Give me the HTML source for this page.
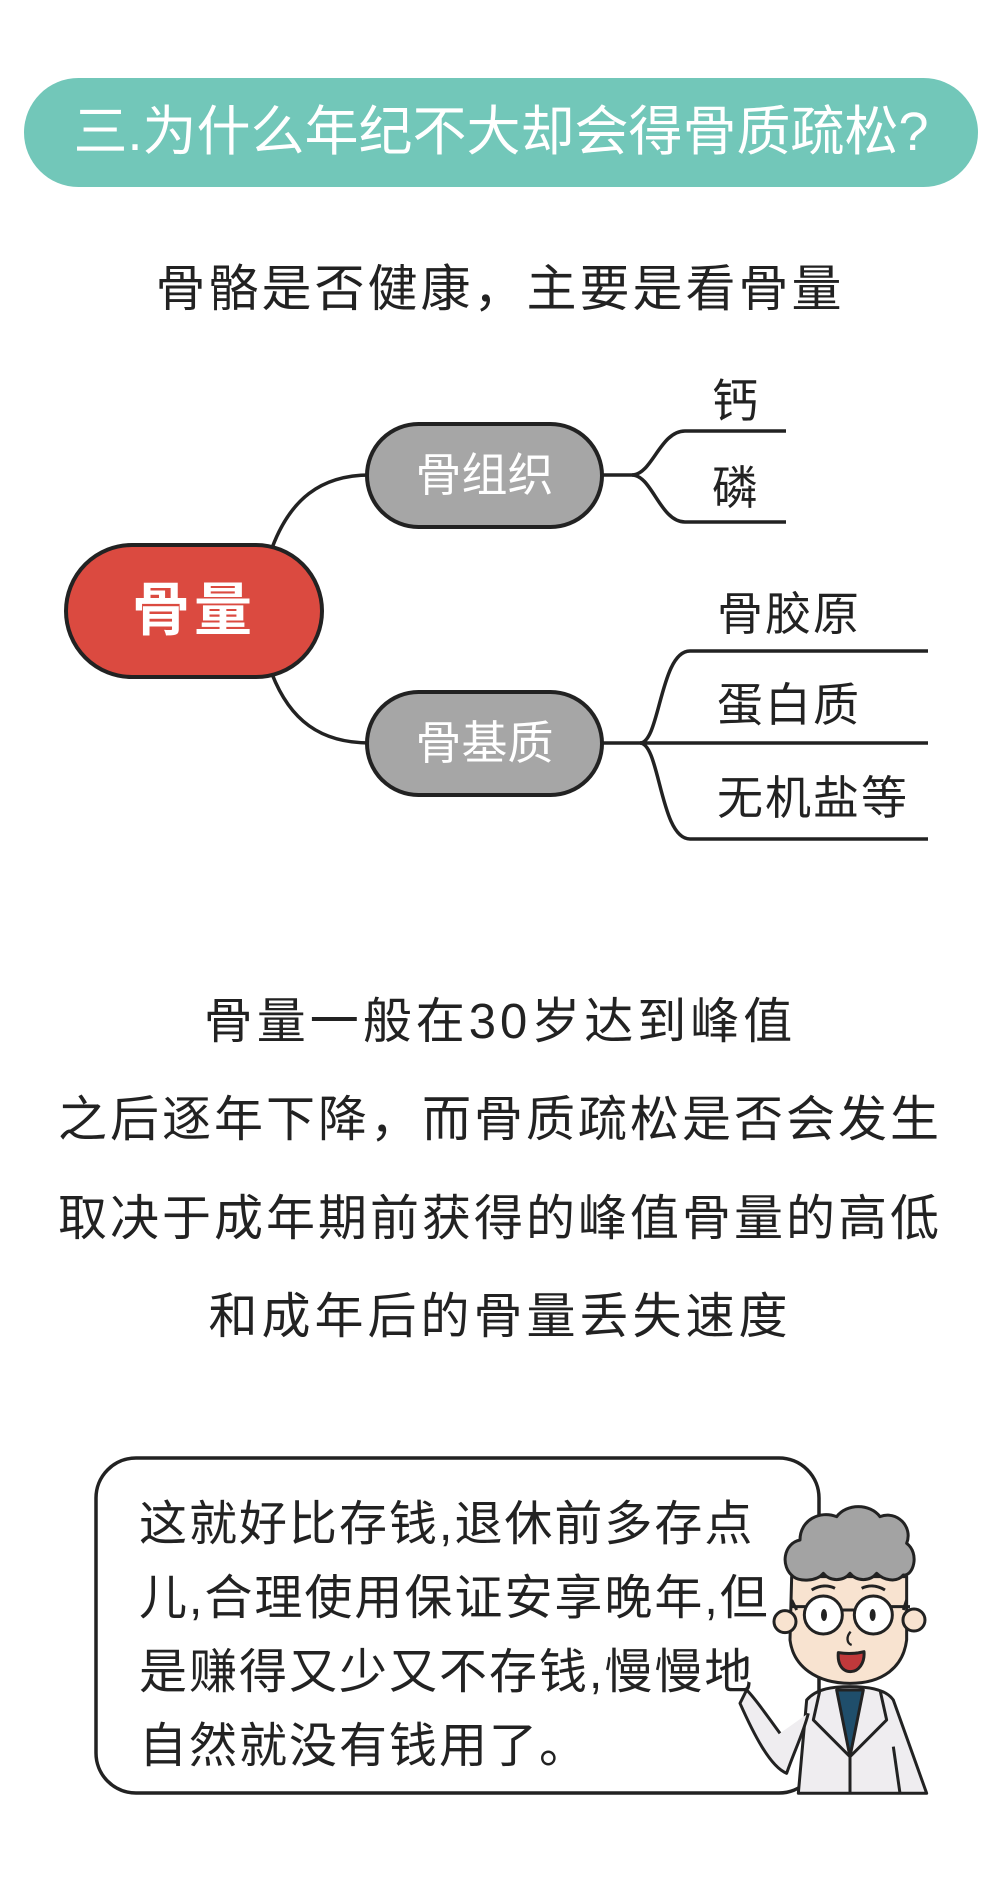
<!DOCTYPE html>
<html><head><meta charset="utf-8">
<style>
html,body{margin:0;padding:0;background:#fff;}
body{width:1000px;height:1879px;position:relative;overflow:hidden;font-family:"Liberation Sans","Noto Sans CJK SC","WenQuanYi Zen Hei",sans-serif;color:#222;}
.t{position:absolute;white-space:nowrap;}
</style></head><body>
<svg width="1000" height="1879" style="position:absolute;left:0;top:0" xmlns="http://www.w3.org/2000/svg">
  <rect x="24" y="78" width="954" height="109" rx="54.5" fill="#72c7b9"/>
  <g fill="none" stroke="#222" stroke-width="3.5">
    <path d="M272 548 C290 500 320 475 370 475"/>
    <path d="M272 674 C290 720 320 743 370 743"/>
    <path d="M600 475 L632 475 C652 475 660 431 685 431 L786 431"/>
    <path d="M632 475 C652 475 660 522 685 522 L786 522"/>
    <path d="M600 743 L640 743 C660 743 660 651 690 651 L928 651"/>
    <path d="M640 743 L928 743"/>
    <path d="M640 743 C660 743 660 839 690 839 L928 839"/>
  </g>
  <rect x="66" y="545" width="256" height="132" rx="66" fill="#db4a40" stroke="#222" stroke-width="4"/>
  <rect x="367" y="424" width="235" height="103" rx="51.5" fill="#a6a6a6" stroke="#222" stroke-width="4"/>
  <rect x="367" y="692" width="235" height="103" rx="51.5" fill="#a6a6a6" stroke="#222" stroke-width="4"/>
  <rect x="96" y="1458" width="723" height="335" rx="40" fill="#fff" stroke="#222" stroke-width="3.5"/>
  <g transform="translate(740,1500) scale(0.3333)" stroke="#222" stroke-width="9" stroke-linejoin="round">
    <path d="M175 880 L200 600 C230 565 280 560 330 560 C390 560 440 570 460 600 L560 880 Z" fill="#efedf0"/>
    <path d="M290 570 L370 570 L330 770 Z" fill="#1f4e6b"/>
    <path d="M240 570 L220 660 L260 700 L330 770" fill="none"/>
    <path d="M420 570 L440 660 L400 700 L330 770" fill="none"/>
    <path d="M330 770 L330 880" fill="none"/>
    <path d="M460 740 L480 880" fill="none"/>
    <path d="M205 640 C190 700 160 760 140 820 C90 800 40 700 0 610 L20 570 C50 600 90 660 120 700" fill="#efedf0"/>
    <path d="M155 230 L150 420 C160 500 230 550 330 550 C430 550 490 500 500 420 L500 230 Z" fill="#f8e3d0"/>
    <circle cx="135" cy="365" r="33" fill="#f8e3d0"/>
    <circle cx="522" cy="360" r="33" fill="#f8e3d0"/>
    <path d="M155 300 L170 330 M500 300 L490 330" fill="none"/>
    <path d="M160 230 C120 200 130 130 180 120 C180 60 240 30 290 50 C320 10 390 10 420 50 C470 30 520 80 500 130 C540 160 520 230 490 225 C470 250 430 240 410 220 C390 245 350 245 330 220 C310 245 270 245 250 220 C230 245 180 245 160 230 Z" fill="#a3a3a3"/>
    <path d="M150 320 L200 320 M300 330 L350 330 M450 320 L510 320" fill="none"/>
    <circle cx="250" cy="345" r="57" fill="#fff"/>
    <circle cx="400" cy="345" r="57" fill="#fff"/>
    <ellipse cx="252" cy="345" rx="9" ry="18" fill="#222" stroke="none"/>
    <ellipse cx="398" cy="345" rx="9" ry="18" fill="#222" stroke="none"/>
    <path d="M215 270 C240 255 265 255 285 265 M365 265 C385 255 410 255 435 270" fill="none"/>
    <path d="M332 395 C318 410 320 430 335 435" fill="none" stroke-width="7"/>
    <path d="M295 458 C320 462 345 462 372 455 C375 490 355 515 332 515 C305 515 292 490 295 458 Z" fill="#c0393b"/>
  </g>
</svg>

<div class="t" style="left:24px;width:954px;top:101px;text-align:center;font-size:54px;line-height:62px;color:#fff;">三.为什么年纪不大却会得骨质疏松?</div>
<div class="t" style="left:0;width:1000px;top:260px;text-align:center;font-size:50px;line-height:58px;letter-spacing:3px;">骨骼是否健康，主要是看骨量</div>

<div class="t" style="left:66px;width:256px;top:578px;text-align:center;font-size:58px;line-height:66px;color:#fff;font-weight:bold;letter-spacing:4px;">骨量</div>
<div class="t" style="left:367px;width:235px;top:448px;text-align:center;font-size:46px;line-height:54px;color:#fff;">骨组织</div>
<div class="t" style="left:367px;width:235px;top:716px;text-align:center;font-size:46px;line-height:54px;color:#fff;">骨基质</div>

<div class="t" style="left:712px;top:375px;font-size:46px;line-height:52px;">钙</div>
<div class="t" style="left:712px;top:462px;font-size:46px;line-height:52px;">磷</div>
<div class="t" style="left:717px;top:588px;font-size:46px;line-height:52px;letter-spacing:2px;">骨胶原</div>
<div class="t" style="left:717px;top:679px;font-size:46px;line-height:52px;letter-spacing:2px;">蛋白质</div>
<div class="t" style="left:717px;top:772px;font-size:46px;line-height:52px;letter-spacing:2px;">无机盐等</div>

<div class="t" style="left:0;width:1000px;top:993px;text-align:center;font-size:49px;line-height:58px;letter-spacing:4px;">骨量一般在30岁达到峰值</div>
<div class="t" style="left:0;width:1000px;top:1091px;text-align:center;font-size:49px;line-height:58px;letter-spacing:3px;">之后逐年下降，而骨质疏松是否会发生</div>
<div class="t" style="left:0;width:1000px;top:1190px;text-align:center;font-size:49px;line-height:58px;letter-spacing:3px;">取决于成年期前获得的峰值骨量的高低</div>
<div class="t" style="left:0;width:1000px;top:1288px;text-align:center;font-size:49px;line-height:58px;letter-spacing:4px;">和成年后的骨量丢失速度</div>

<div class="t" style="left:139px;top:1488px;font-size:48px;line-height:74px;letter-spacing:2px;">这就好比存钱,退休前多存点<br>儿,合理使用保证安享晚年,但<br>是赚得又少又不存钱,慢慢地<br>自然就没有钱用了。</div>
</body></html>
